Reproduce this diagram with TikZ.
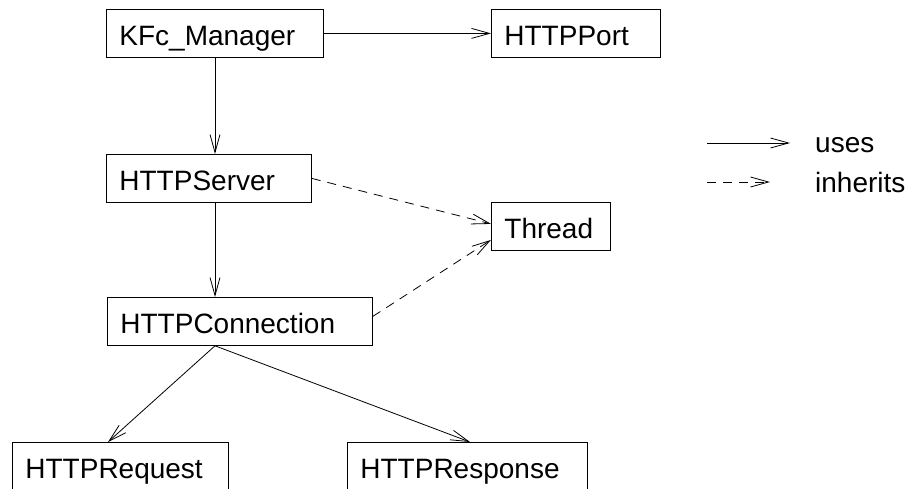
\documentclass[tikz,border=0pt]{standalone}
\usepackage{fontspec}
\setmainfont{Liberation Sans}
\usetikzlibrary{arrows.meta}
\tikzset{
  box/.style={draw, line width=0.8pt, anchor=north west, inner xsep=13pt, inner ysep=0pt,
    minimum height=48pt, text height=24pt, text depth=0pt, align=left,
    font=\fontsize{28}{30}\selectfont},
  lbl/.style={anchor=base west, inner sep=0pt, font=\fontsize{28}{30}\selectfont},
  uses/.style={line width=0.8pt, -{Straight Barb[length=18pt,width=10pt,line width=0.8pt]}},
  inh/.style={uses, dash pattern=on 9pt off 7pt},
}
\begin{document}
\begin{tikzpicture}[x=1pt,y=-1pt]
\clip (0,0) rectangle (909,489);
\fill[white] (0,0) rectangle (909,489);
\node[box, text width=191pt] (kfc) at (106,9) {KFc\_Manager};
\node[box, text width=143pt] (port) at (491,9) {HTTPPort};
\node[box, text width=179pt] (server) at (106,154) {HTTPServer};
\node[box, text width=93pt] (thread) at (491,202) {Thread};
\node[box, text width=239pt] (conn) at (107,297) {HTTPConnection};
\node[box, text width=190pt] (req) at (12,442) {HTTPRequest};
\node[box, text width=214pt] (resp) at (347,442) {HTTPResponse};

\draw[uses] (kfc.east) -- (port.west);
\draw[uses] ([xshift=109pt]kfc.south west) -- ([xshift=109pt]server.north west);
\draw[uses] ([xshift=109pt]server.south west) -- ([xshift=108pt]conn.north west);
\draw[uses] ([xshift=108pt]conn.south west) -- ([xshift=96pt]req.north west);
\draw[uses] ([xshift=108pt]conn.south west) -- ([xshift=123pt]resp.north west);
\draw[inh] (server.east) -- ([yshift=2.5pt]thread.west);
\draw[inh] ([yshift=5pt]conn.east) -- ([yshift=-13.5pt]thread.west);

\coordinate (u1) at (707,143);
\coordinate (u2) at (790,143);
\coordinate (i1) at (707,182);
\coordinate (i2) at (770,182);
\draw[uses] (u1) -- (u2);
\draw[inh] (i1) -- (i2);
\node[lbl] (usesl) at (815,153) {uses};
\node[lbl] (inhl) at (815,192) {inherits};
\end{tikzpicture}
\end{document}
